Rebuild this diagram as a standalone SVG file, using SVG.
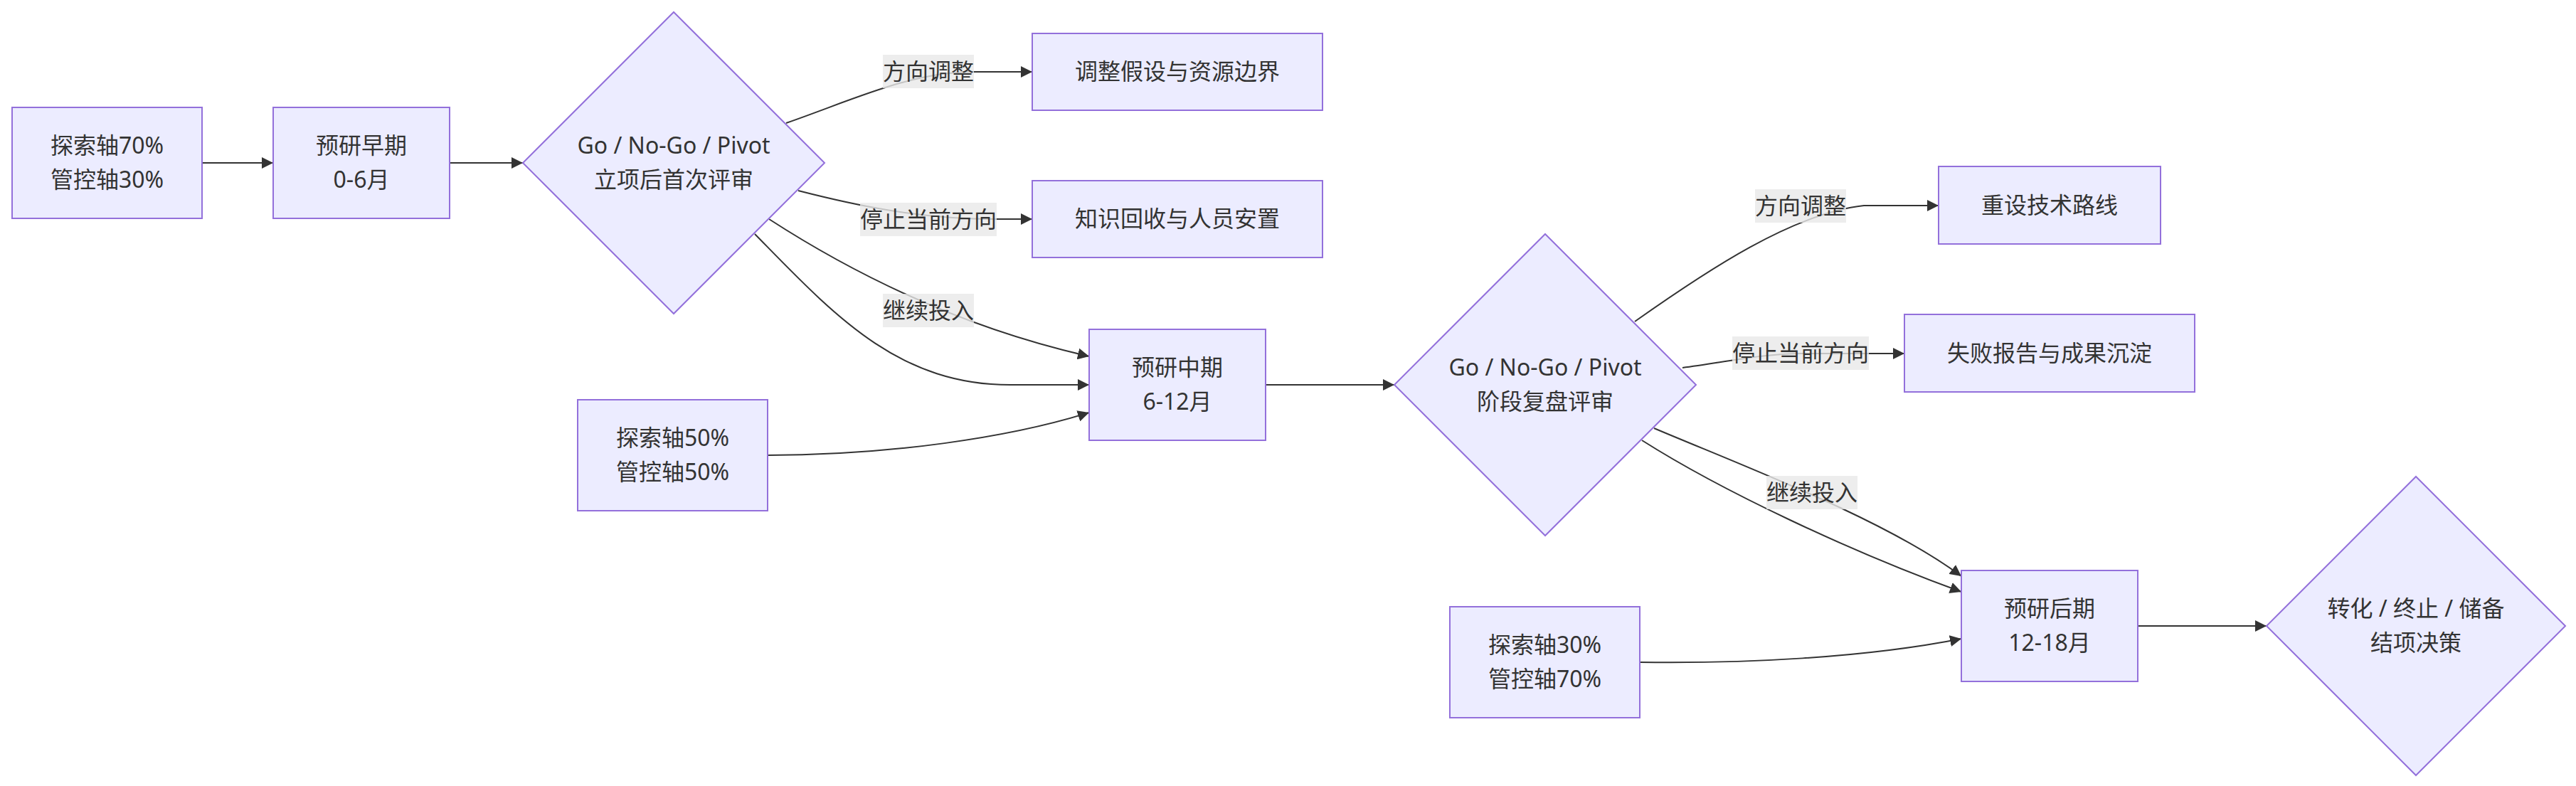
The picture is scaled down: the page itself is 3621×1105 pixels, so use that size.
<svg xmlns="http://www.w3.org/2000/svg" width="3621" height="1105" viewBox="0 0 3621 1105">
<style>
.node rect,.node polygon{fill:#ECECFF;stroke:#9370DB;stroke-width:2}
text{font-family:"Noto Sans","Noto Sans CJK SC",sans-serif;font-size:32px;fill:#333;text-anchor:middle}
.edge{fill:none;stroke:#333;stroke-width:2}
.lbl rect{fill:rgba(232,232,232,0.8)}
</style>
<defs>
<marker id="arr" viewBox="0 0 10 10" refX="10" refY="5" markerUnits="userSpaceOnUse" markerWidth="16" markerHeight="16" orient="auto">
<path d="M0,0 L10,5 L0,10 z" fill="#333"/>
</marker>
</defs>
<rect width="3621" height="1105" fill="#fff"/>
<g id="connectors">
<path class="edge" marker-end="url(#arr)" d="M284,229 L384,229"/>
<path class="edge" marker-end="url(#arr)" d="M632,229 L735,229"/>
<path class="edge" marker-end="url(#arr)" d="M1105,173 C1200,140 1280,101 1369,101 L1451,101"/>
<path class="edge" marker-end="url(#arr)" d="M1122,268 C1200,288 1290,308 1401,308 L1451,308"/>
<path class="edge" marker-end="url(#arr)" d="M1081,308 C1231,405 1381,467 1531,501"/>
<path class="edge" marker-end="url(#arr)" d="M1061,329 C1170,440 1260,541 1420,541 L1531,541"/>
<path class="edge" marker-end="url(#arr)" d="M1079,640 C1250,640 1420,615 1531,580"/>
<path class="edge" marker-end="url(#arr)" d="M1779,541 L1960,541"/>
<path class="edge" marker-end="url(#arr)" d="M2298,452 C2400,380 2520,300 2620,289 L2725,289"/>
<path class="edge" marker-end="url(#arr)" d="M2365,517 C2420,510 2480,497 2531,497 L2677,497"/>
<path class="edge" marker-end="url(#arr)" d="M2325,602 C2450,655 2650,730 2757,810"/>
<path class="edge" marker-end="url(#arr)" d="M2308,619 C2420,690 2600,775 2757,832"/>
<path class="edge" marker-end="url(#arr)" d="M2305,931 C2450,933 2620,925 2757,898"/>
<path class="edge" marker-end="url(#arr)" d="M3005,880 L3186,880"/>
</g>
<g id="edge-labels">
<g class="lbl"><rect x="1241" y="77" width="128" height="47"/><text x="1305" y="112">方向调整</text></g>
<g class="lbl"><rect x="1209" y="285" width="192" height="47"/><text x="1305" y="320">停止当前方向</text></g>
<g class="lbl"><rect x="1241" y="413" width="128" height="47"/><text x="1305" y="448">继续投入</text></g>
<g class="lbl"><rect x="2467" y="266" width="128" height="47"/><text x="2531" y="301">方向调整</text></g>
<g class="lbl"><rect x="2435" y="473" width="192" height="47"/><text x="2531" y="508">停止当前方向</text></g>
<g class="lbl"><rect x="2483" y="669" width="128" height="47"/><text x="2547" y="704">继续投入</text></g>
</g>
<g id="n-axis1" class="node"><rect x="17" y="151" width="267" height="156"/><text x="150.5" y="216">探索轴70%</text><text x="150.5" y="264">管控轴30%</text></g>
<g id="n-early" class="node"><rect x="384" y="151" width="248" height="156"/><text x="508" y="216">预研早期</text><text x="508" y="264">0-6月</text></g>
<g id="n-review1" class="node"><polygon points="947,17 1159,229 947,441 735,229"/><text x="947" y="216">Go / No-Go / Pivot</text><text x="947" y="264">立项后首次评审</text></g>
<g id="n-adjust1" class="node"><rect x="1451" y="47" width="408" height="108"/><text x="1655" y="112">调整假设与资源边界</text></g>
<g id="n-stop1" class="node"><rect x="1451" y="254" width="408" height="108"/><text x="1655" y="319">知识回收与人员安置</text></g>
<g id="n-mid" class="node"><rect x="1531" y="463" width="248" height="156"/><text x="1655" y="528">预研中期</text><text x="1655" y="576">6-12月</text></g>
<g id="n-axis2" class="node"><rect x="812" y="562" width="267" height="156"/><text x="945.5" y="627">探索轴50%</text><text x="945.5" y="675">管控轴50%</text></g>
<g id="n-review2" class="node"><polygon points="2172,329 2384,541 2172,753 1960,541"/><text x="2172" y="528">Go / No-Go / Pivot</text><text x="2172" y="576">阶段复盘评审</text></g>
<g id="n-adjust2" class="node"><rect x="2725" y="234" width="312" height="109"/><text x="2881" y="300">重设技术路线</text></g>
<g id="n-stop2" class="node"><rect x="2677" y="442" width="408" height="109"/><text x="2881" y="508">失败报告与成果沉淀</text></g>
<g id="n-late" class="node"><rect x="2757" y="802" width="248" height="156"/><text x="2881" y="867">预研后期</text><text x="2881" y="915">12-18月</text></g>
<g id="n-axis3" class="node"><rect x="2038" y="853" width="267" height="156"/><text x="2171.5" y="918">探索轴30%</text><text x="2171.5" y="966">管控轴70%</text></g>
<g id="n-final" class="node"><polygon points="3396,670 3606,880 3396,1090 3186,880"/><text x="3396" y="867">转化 / 终止 / 储备</text><text x="3396" y="915">结项决策</text></g>
</svg>
